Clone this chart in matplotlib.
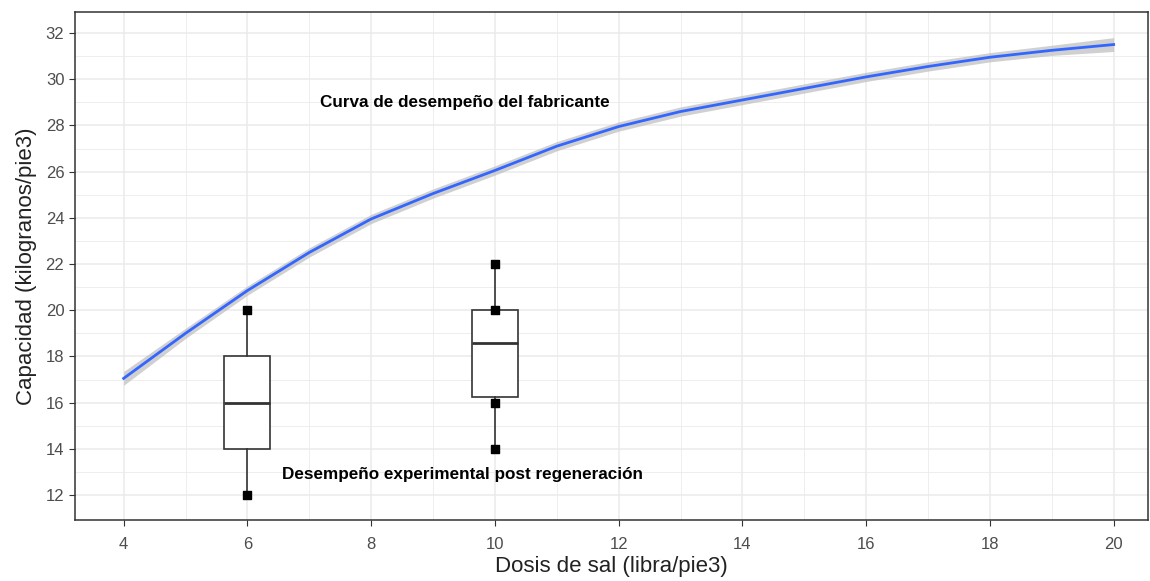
import numpy as np
import matplotlib
matplotlib.use("Agg")
from matplotlib import pyplot as plt

plt.rcParams['font.family'] = ['Liberation Sans', 'DejaVu Sans']

# curva del fabricante
dosis = [4, 5, 6, 7, 8, 9, 10, 11, 12, 13, 14, 15, 16, 17, 18, 19, 20]
capacidad = [17.05, 19.0, 20.85, 22.5, 23.95, 25.05, 26.05, 27.1, 27.95, 28.6, 29.1, 29.6, 30.1, 30.55, 30.95, 31.25, 31.5]
banda = [0.3, 0.22, 0.2, 0.2, 0.2, 0.2, 0.2, 0.2, 0.2, 0.2, 0.2, 0.2, 0.2, 0.2, 0.2, 0.22, 0.3]

# cajas experimentales
caja_x = [6, 10]
caja_min = [12, 14]
caja_q1 = [14, 16.25]
caja_med = [16, 18.6]
caja_q3 = [18, 20]
caja_max = [20, 22]
puntos_x = [6, 6, 10, 10, 10, 10]
puntos_y = [12, 20, 14, 16, 20, 22]

texto_curva = "Curva de desempeño del fabricante"
texto_exp = "Desempeño experimental post regeneración"

fig = plt.figure(figsize=(11.5, 5.81), dpi=100)
ax = fig.add_axes([0.065, 0.105, 0.933, 0.874])

ax.fill_between(dosis, np.array(capacidad) - np.array(banda), np.array(capacidad) + np.array(banda),
                color="#bdbdbd", alpha=0.7, lw=0, zorder=2)
ax.plot(dosis, capacidad, color="#3366ff", lw=2.0, zorder=3)

stats = []
for i in range(len(caja_x)):
    stats.append(dict(med=caja_med[i], q1=caja_q1[i], q3=caja_q3[i],
                      whislo=caja_min[i], whishi=caja_max[i], fliers=[]))
ax.bxp(stats, positions=caja_x, widths=0.74, showfliers=False, patch_artist=True,
       manage_ticks=False,
       boxprops=dict(facecolor="white", edgecolor="#333333", lw=1.2),
       medianprops=dict(color="#333333", lw=2),
       whiskerprops=dict(color="#333333", lw=1.2),
       capprops=dict(lw=0), zorder=4)
ax.scatter(puntos_x, puntos_y, marker="s", s=38, color="black", zorder=5)

ax.text(9.51, 28.97, texto_curva, ha="center", va="center", fontsize=12.3, fontweight="bold", zorder=6)
ax.text(9.48, 12.9, texto_exp, ha="center", va="center", fontsize=12.3, fontweight="bold", zorder=6)

ax.set_xlim(3.21, 20.55)
ax.set_ylim(10.92, 32.9)
ax.set_xticks(range(4, 21, 2))
ax.set_xticks(range(5, 21, 2), minor=True)
ax.set_yticks(range(12, 33, 2))
ax.set_yticks(range(13, 33, 2), minor=True)
ax.grid(True, which="major", color="#ebebeb", lw=1.1, zorder=0)
ax.grid(True, which="minor", color="#ebebeb", lw=0.6, zorder=0)
ax.set_axisbelow(True)
ax.tick_params(axis="both", which="major", length=4, color="#333333", labelsize=12, labelcolor="#4d4d4d")
ax.tick_params(axis="x", which="major", pad=8)
ax.tick_params(axis="both", which="minor", length=0)
for s in ax.spines.values():
    s.set_color("#333333")
    s.set_linewidth(1.1)

ax.set_xlabel("Dosis de sal (libra/pie3)", fontsize=16, color="#222222", labelpad=3)
ax.set_ylabel("Capacidad (kilogranos/pie3)", fontsize=16, color="#222222", labelpad=6)

fig.savefig("out.png", dpi=100)
